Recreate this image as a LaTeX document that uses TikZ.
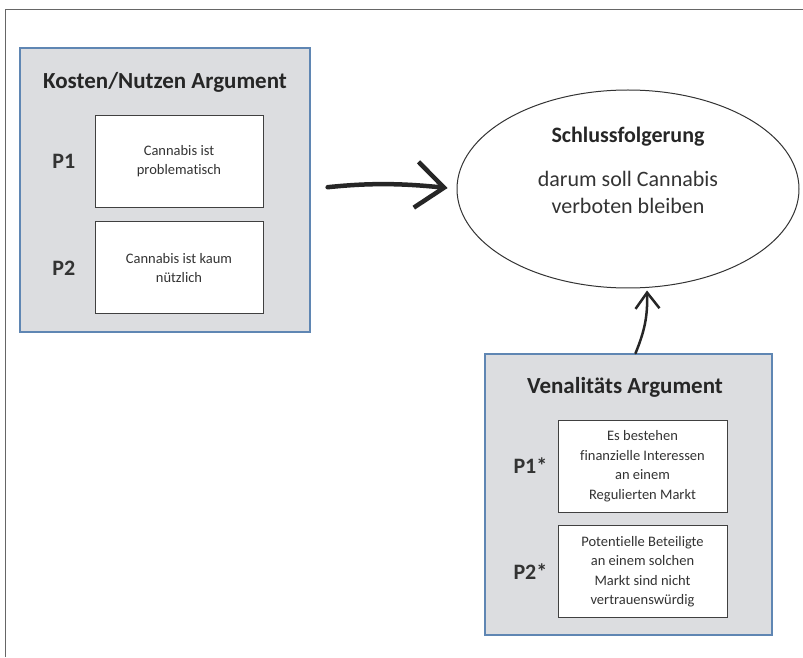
\documentclass[tikz,border=0pt]{standalone}
\usepackage{fontspec}
\setmainfont{Carlito}[Ligatures=NoCommon]
\usetikzlibrary{arrows.meta,positioning,shapes.geometric}
\definecolor{boxgray}{HTML}{DCDDE0}
\definecolor{boxblue}{HTML}{5F86B3}
\definecolor{inktext}{HTML}{333333}

\begin{document}
\begin{tikzpicture}[x=1pt, y=1pt,
  argbox/.style={draw=boxblue, line width=1.5pt, fill=boxgray, minimum width=290pt, minimum height=284pt},
  premise/.style={draw=black!75, line width=0.9pt, fill=white, minimum width=168pt, minimum height=92pt, align=center, font=\fontsize{14.5}{19.5}\selectfont, text=inktext},
  plabel/.style={font=\bfseries\fontsize{22}{26}\selectfont, text=inktext, inner sep=0pt},
  argtitle/.style={font=\bfseries\fontsize{23}{28}\selectfont, text=black!85},
  brush/.style={line width=4.5pt, line cap=round, black!85, -{Straight Barb[length=28pt, width=46pt, line width=4.5pt]}}]
\useasboundingbox (0,0) rectangle (803,657);
\draw[black!60, line width=1pt] (5,0) |- (803,647);

% Kosten/Nutzen
\node[argbox] (kn) at (165,467) {};
\node[argtitle] (kntitle) at (165,575) {Kosten/Nutzen Argument};
\node[premise] (p1) at (179,496) {Cannabis ist\\problematisch};
\node[premise, below=14pt of p1] (p2) {Cannabis ist kaum\\nützlich};
\node[plabel, left=19pt of p1] (p1l) {P1};
\node[plabel, left=19pt of p2] (p2l) {P2};

% Schlussfolgerung
\node[draw, ellipse, black!80, line width=1pt, minimum width=342pt, minimum height=198pt] (sf) at (628,468) {};
\node[font=\bfseries\fontsize{22}{26}\selectfont, text=black!85] (sftitle) at (628,520) {Schlussfolgerung};
\node[align=center, font=\fontsize{22}{27}\selectfont, text=inktext] (sftext) at (628,465) {darum soll Cannabis\\verboten bleiben};

% Venalitaet
\node[argbox, minimum width=287pt, minimum height=281pt] (va) at (628.5,162.5) {};
\node[argtitle] (vatitle) at (625,270) {Venalitäts Argument};
\node[premise, minimum width=169pt] (q1) at (642.5,191) {Es bestehen\\finanzielle Interessen\\an einem\\Regulierten Markt};
\node[premise, minimum width=169pt, below=13pt of q1] (q2) {Potentielle Beteiligte\\an einem solchen\\Markt sind nicht\\vertrauenswürdig};
\node[plabel, left=10pt of q1] (q1l) {P1*};
\node[plabel, left=10pt of q2] (q2l) {P2*};

\draw[brush, shorten <=17pt, shorten >=9pt] (kn.east |- sf.west) to[bend left=6] (sf.west);
\draw[brush, line width=2.5pt, -{Straight Barb[length=16pt, width=24pt, line width=2.5pt]}] ([xshift=7pt]va.north) to[bend right=12] ([xshift=19pt, yshift=-2pt]sf.south);
\end{tikzpicture}
\end{document}
